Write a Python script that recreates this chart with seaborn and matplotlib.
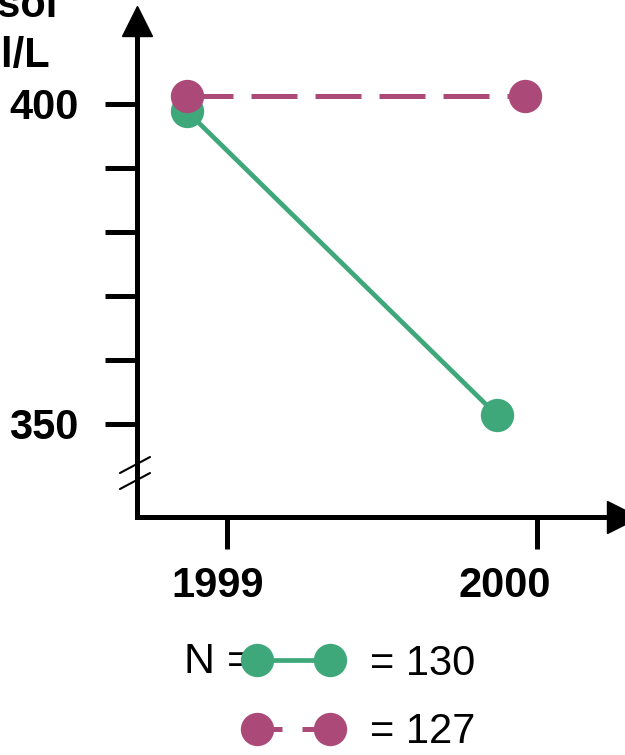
import matplotlib
matplotlib.use("Agg")
import matplotlib.pyplot as plt
import matplotlib.transforms as mtransforms
from matplotlib.lines import Line2D
import pandas as pd
import seaborn as sns

# values
green_years = [1998.87, 1999.87]
green_values = [398.9, 351.4]
purple_years = [1998.87, 1999.96]
purple_values = [401.3, 401.3]

x_ticks = [1999, 2000]
x_labels = ["1999", "2000"]
y_ticks = [350, 360, 370, 380, 390, 400]
y_labels = ["350", "", "", "", "", "400"]

legend_labels = ["= 130", "= 127"]

green = "#3fa87b"
purple = "#ab4a78"

sns.set_style("ticks")
plt.rcParams["font.family"] = ["Liberation Sans", "DejaVu Sans"]
plt.rcParams["text.color"] = "black"

df_green = pd.DataFrame({"year": green_years, "value": green_values})
df_purple = pd.DataFrame({"year": purple_years, "value": purple_values})

fig = plt.figure(figsize=(6.25, 7.55), dpi=100)
ax = fig.add_axes([137 / 625, 238 / 755, 473 / 625, 497 / 755])

sns.lineplot(data=df_green, x="year", y="value", ax=ax, color=green,
             linewidth=3.4, marker="o", markersize=24, markeredgewidth=0)
sns.lineplot(data=df_purple, x="year", y="value", ax=ax, color=purple,
             linewidth=3.6, linestyle=(0, (9.2, 3.6)), marker="o",
             markersize=24, markeredgewidth=0)

ax.set_xlim(1998.71, 2000.235)
ax.set_ylim(335.47, 413.1)

ax.set_xticks(x_ticks)
ax.set_xticklabels(x_labels, fontsize=30, fontweight="bold")
ax.set_yticks(y_ticks)
ax.set_yticklabels(y_labels, fontsize=30, fontweight="bold")
ax.tick_params(length=23, width=3.6, color="black", labelcolor="black", pad=19)
ax.tick_params(axis="x", pad=12)
ax.set_xlabel("")
ax.set_ylabel("")

# the year labels sit a bit left of their ticks in the reference
for lab, dx in zip(ax.get_xticklabels(), [-9, -32]):
    lab.set_transform(lab.get_transform() +
                      mtransforms.ScaledTranslation(dx / 100, 0, fig.dpi_scale_trans))

sns.despine(ax=ax)
for s in ["left", "bottom"]:
    ax.spines[s].set_linewidth(3.6)
    ax.spines[s].set_color("black")

# arrow heads at axis ends
ax.plot([0], [0.998], marker="^", markersize=22, color="black",
        transform=ax.transAxes, clip_on=False)
ax.plot([1.027], [0], marker=">", markersize=23, color="black",
        transform=ax.transAxes, clip_on=False)

# axis break mark
ax.plot([-0.036, 0.0275], [0.0885, 0.1207], color="black", lw=1.5,
        transform=ax.transAxes, clip_on=False)
ax.plot([-0.036, 0.0275], [0.0563, 0.0885], color="black", lw=1.5,
        transform=ax.transAxes, clip_on=False)

# y label, cut off at the top-left like the reference
fig.text(58 / 625, (755 - 17) / 755, "Cortisol", ha="right", va="baseline",
         fontsize=30, fontweight="bold")
fig.text(50 / 625, (755 - 67) / 755, "nmol/L", ha="right", va="baseline",
         fontsize=30, fontweight="bold")

handles = [
    Line2D([], [], color=green, linewidth=3.4, marker="o", markersize=24,
           markeredgewidth=0),
    Line2D([], [], color=purple, linewidth=3.6, linestyle=(0, (5, 4)),
           marker="o", markersize=24, markeredgewidth=0),
]
fig.legend(handles, legend_labels, loc="center left",
           bbox_to_anchor=(244 / 625, 57 / 755), frameon=False,
           fontsize=30, numpoints=2, handlelength=2.36, handletextpad=0.67,
           borderpad=0, borderaxespad=0, labelspacing=0.69)
fig.text(252 / 625, (755 - 662) / 755, "N =", ha="right", va="center",
         fontsize=31, zorder=1)

fig.savefig("out.png", dpi=100)
